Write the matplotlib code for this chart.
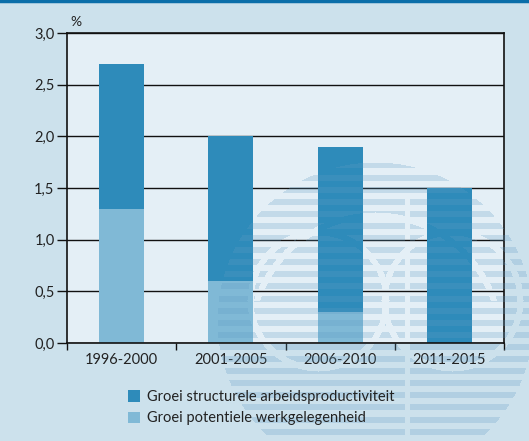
import numpy as np
import matplotlib
matplotlib.use("Agg")
import matplotlib.pyplot as plt
from matplotlib.patches import Rectangle
from matplotlib.lines import Line2D
from matplotlib.colors import to_rgb

categories = ["1996-2000", "2001-2005", "2006-2010", "2011-2015"]
werkgelegenheid = [1.3, 0.6, 0.3, 0.0]
productiviteit = [1.4, 1.4, 1.6, 1.5]
yticks = [0.0, 0.5, 1.0, 1.5, 2.0, 2.5, 3.0]
ytick_labels = ["0,0", "0,5", "1,0", "1,5", "2,0", "2,5", "3,0"]
legend_labels = ["Groei structurele arbeidsproductiviteit", "Groei potentiele werkgelegenheid"]

c_dark = "#2e8bba"
c_light = "#80b9d6"
bg_outer = "#cce1ec"
bg_axes = "#e4eff6"

plt.rcParams['font.family'] = ['Lato', 'DejaVu Sans']

W, H = 529, 441
fig = plt.figure(figsize=(W / 100, H / 100), dpi=100, facecolor=bg_outer)


def fx(px):
    return px / W


def fy(py):
    return 1 - py / H


# axes in pixel positions
L, R, T, B = 67, 504, 33, 343
ax = fig.add_axes([L / W, 1 - B / H, (R - L) / W, (B - T) / H])
ax.set_facecolor(bg_axes)
ax.set_axisbelow(True)

x = np.arange(len(categories))
ax.bar(x, werkgelegenheid, width=0.41, color=c_light, zorder=2)
ax.bar(x, productiviteit, width=0.41, bottom=werkgelegenheid, color=c_dark, zorder=2)

ax.set_xlim(-0.5, len(categories) - 0.5)
ax.set_ylim(0, 3.0)
ax.set_yticks(yticks)
ax.set_yticklabels(ytick_labels, fontsize=10.5, color="#222222")
ax.yaxis.grid(True, color="#111111", linewidth=1.0)
ax.tick_params(axis='y', length=7, width=1.0, pad=2, color="#111111")

ax.set_xticks(np.arange(-0.5, len(categories), 1.0))
ax.set_xticklabels([])
ax.set_xticks(x, minor=True)
ax.set_xticklabels(categories, minor=True, fontsize=10.5, color="#222222")
ax.tick_params(axis='x', which='major', length=5, width=1.0, color="#111111")
ax.tick_params(axis='x', which='minor', length=0, pad=7)
for s in ax.spines.values():
    s.set_color("#111111")
    s.set_linewidth(1.2)

# watermark: striped globe with gaps, rendered as a translucent overlay image
yy, xx = np.mgrid[0:H, 0:W].astype(float)
cx, cy, rad = 375, 320, 158
mask = np.hypot(xx - cx, yy - cy) < rad
mask &= ((yy - 162) % 12.1) < 6
for (rx, ry, rr) in [(318, 300, 68), (452, 300, 68)]:
    mask &= np.abs(np.hypot(xx - rx, yy - ry) - rr) > 3
upper = (np.abs(np.hypot(xx - cx, yy - (cy + 20)) - 125) > 3) | (yy > 300)
mask &= upper
mask &= ~((np.abs(xx - 407) < 3) & (yy > 198))
rgba = np.zeros((H, W, 4))
rgba[..., :3] = to_rgb("#5f9cc4")
rgba[..., 3] = mask * 0.25
fig.figimage(rgba, 0, 0, origin='upper', zorder=2.5)

# top blue line
fig.add_artist(Line2D([0, 1], [fy(1.2), fy(1.2)], transform=fig.transFigure,
                      color="#0b6ea9", linewidth=2.5))

fig.text(fx(70), fy(22), "%", fontsize=10, color="#222222", va='center', ha='left', zorder=4)

handles = [Rectangle((0, 0), 1, 1, facecolor=c_dark), Rectangle((0, 0), 1, 1, facecolor=c_light)]
leg = fig.legend(handles, legend_labels, loc='upper left', bbox_to_anchor=(fx(128), fy(390)),
                 frameon=False, fontsize=10.5, handlelength=0.8, handleheight=0.8,
                 handletextpad=0.5, labelspacing=0.5, borderaxespad=0, borderpad=0,
                 labelcolor="#222222")
leg.set_zorder(5)

fig.savefig("out.png", dpi=100, facecolor=bg_outer)
